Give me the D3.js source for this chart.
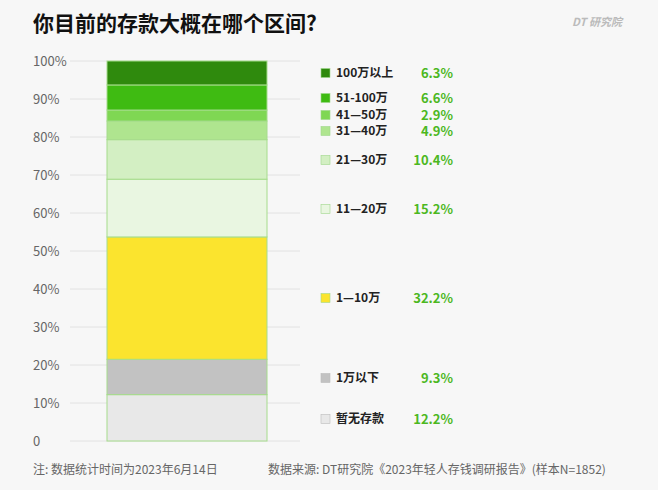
<!DOCTYPE html><html><head><meta charset="utf-8">
<script src="https://cdn.jsdelivr.net/npm/d3@7"></script>
<style>body{margin:0;background:#f7f7f7;font-family:"Noto Sans CJK SC","Noto Sans",sans-serif}</style></head><body>
<svg id="c" width="658" height="490"></svg>
<script>
const categories=["暂无存款","1万以下","1—10万","11—20万","21—30万","31—40万","41—50万","51-100万","100万以上"];
const values=[12.2,9.3,32.2,15.2,10.4,4.9,2.9,6.6,6.3];
const colors=["#e8e8e8","#c2c2c2","#fbe42e","#e9f6e1","#d3efc3","#afe58f","#7fd753","#3fbb12","#2f8a0d"];
const legendY=[419,378,298,209,160,131,115,98,73];
const tickLabels=["0","10%","20%","30%","40%","50%","60%","70%","80%","90%","100%"];
const svg=d3.select("#c");
svg.append("rect").attr("width",658).attr("height",490).attr("fill","#f7f7f7");
svg.append("text").attr("x",33).attr("y",31).attr("font-size",21).attr("font-weight",700).attr("fill","#111").text("你目前的存款大概在哪个区间?");
svg.append("text").attr("x",622).attr("y",26).attr("text-anchor","end").attr("font-size",11).attr("font-weight",700).attr("font-style","italic").attr("fill","#bbb").text("DT 研究院");
const y=d3.scaleLinear().domain([0,100]).range([441,61]);
tickLabels.forEach((t,i)=>{
  const v=i*10;
  svg.append("line").attr("x1",70).attr("x2",300).attr("y1",y(v)).attr("y2",y(v)).attr("stroke","#e2e2e2");
  svg.append("text").attr("x",33).attr("y",y(v)+5).attr("font-size",13).attr("fill","#666").text(t);
});
let cum=0;
values.forEach((v,i)=>{
  const y0=cum,y1=cum+v;cum=y1;
  svg.append("rect").attr("x",107).attr("width",160).attr("y",y(y1)).attr("height",y(y0)-y(y1)).attr("fill",colors[i]).attr("stroke","#a6dc8c").attr("stroke-width",1);
  const ly=legendY[i];
  svg.append("rect").attr("x",321).attr("y",ly-4.5).attr("width",9).attr("height",9).attr("fill",colors[i]).attr("stroke",i<2?"#bbb":"#9fd88a").attr("stroke-width",0.6);
  svg.append("text").attr("x",336).attr("y",ly).attr("dy","0.36em").attr("font-size",12).attr("font-weight",700).attr("fill","#222").text(categories[i]);
  svg.append("text").attr("x",453).attr("y",ly).attr("dy","0.36em").attr("text-anchor","end").attr("font-size",13).attr("font-weight",700).attr("fill","#4cb81f").text(v.toFixed(1)+"%");
});
svg.append("text").attr("x",33).attr("y",474).attr("font-size",12).attr("fill","#666").text("注: 数据统计时间为2023年6月14日");
svg.append("text").attr("x",268).attr("y",474).attr("font-size",12).attr("fill","#666").text("数据来源: DT研究院《2023年轻人存钱调研报告》(样本N=1852)");
</script></body></html>
